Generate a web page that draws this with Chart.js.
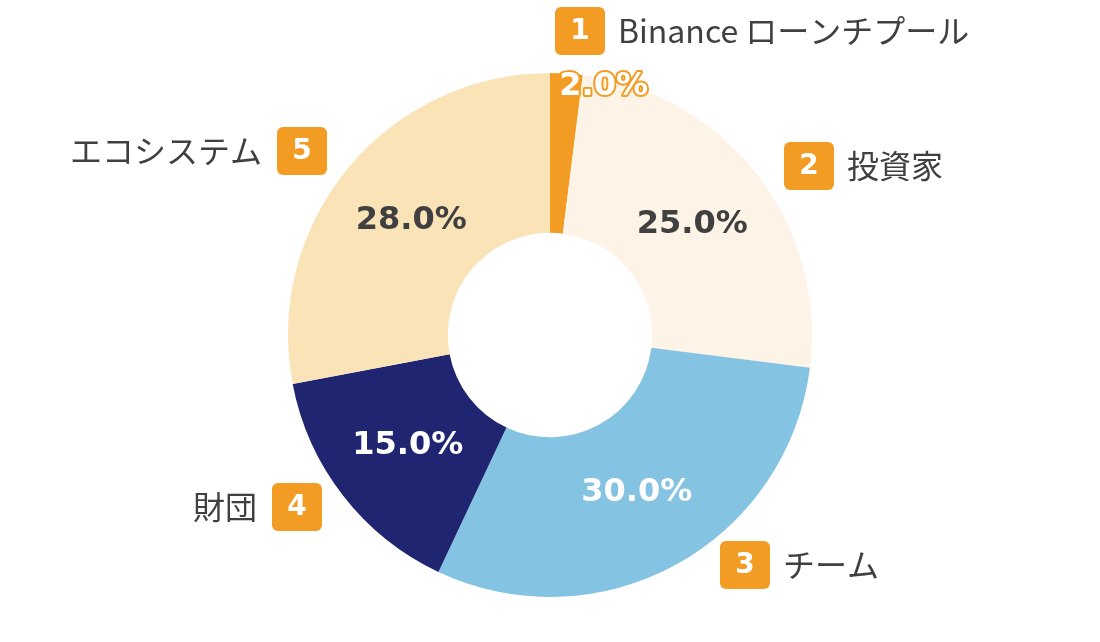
<!DOCTYPE html>
<html>
<head>
<meta charset="utf-8">
<script src="https://cdn.jsdelivr.net/npm/chart.js@4/dist/chart.umd.min.js"></script>
<style>
  html, body { margin: 0; padding: 0; background: #fff; }
  #wrap { width: 1100px; height: 642px; }
</style>
</head>
<body>
<div id="wrap"><canvas id="chart"></canvas></div>
<script>
// ===== data =====
const labels = ['Binance ローンチプール', '投資家', 'チーム', '財団', 'エコシステム'];
const shares = [2, 25, 30, 15, 28];
const colors = ['#F39C23', '#FDF3E6', '#85C3E2', '#1F2570', '#FBE3B8'];
const pctColors = ['#fff', '#404040', '#fff', '#fff', '#404040'];

// label placement relative to donut centre (style only)
const tagPos = [
    { dx: 30, dy: -304, side: 'right' },
    { dx: 259, dy: -169, side: 'right' },
    { dx: 195, dy: 230, side: 'right' },
    { dx: -253, dy: 172, side: 'left' },
    { dx: -248, dy: -184, side: 'left' }
];

function roundRect(ctx, x, y, w, h, r) {
    ctx.beginPath();
    ctx.moveTo(x + r, y);
    ctx.arcTo(x + w, y, x + w, y + h, r);
    ctx.arcTo(x + w, y + h, x, y + h, r);
    ctx.arcTo(x, y + h, x, y, r);
    ctx.arcTo(x, y, x + w, y, r);
    ctx.closePath();
}

// ===== plugin =====
const donutLabels = {
    id: 'donutLabels',
    afterDatasetsDraw(chart) {
        const ctx = chart.ctx;
        const arcs = chart.getDatasetMeta(0).data;
        ctx.save();
        arcs.forEach((arc, i) => {
            const mid = (arc.startAngle + arc.endAngle) / 2;
            const r = i === 0 ? 249 : 180;
            let x = arc.x + Math.cos(mid) * r;
            let y = arc.y + Math.sin(mid) * r;
            if (i === 0) x += 38;
            const txt = shares[i].toFixed(1) + '%';
            ctx.font = 'bold 32px "DejaVu Sans", Verdana, sans-serif';
            ctx.textAlign = 'center';
            ctx.textBaseline = 'middle';
            if (i === 0) {
                ctx.lineWidth = 4;
                ctx.strokeStyle = colors[0];
                ctx.lineJoin = 'round';
                ctx.strokeText(txt, x, y);
            }
            ctx.fillStyle = pctColors[i];
            ctx.fillText(txt, x, y);

            // numbered tag + name
            const p = tagPos[i];
            const bx = arc.x + p.dx, by = arc.y + p.dy;
            ctx.fillStyle = '#F39C23';
            roundRect(ctx, bx - 25, by - 24, 50, 48, 6);
            ctx.fill();
            ctx.fillStyle = '#fff';
            ctx.font = 'bold 28px "DejaVu Sans", Verdana, sans-serif';
            ctx.fillText(String(i + 1), bx, by + 1);
            ctx.fillStyle = '#404040';
            ctx.font = '32px "Noto Sans CJK JP", sans-serif';
            if (p.side === 'right') {
                ctx.textAlign = 'left';
                ctx.fillText(labels[i], bx + 38, by);
            } else {
                ctx.textAlign = 'right';
                ctx.fillText(labels[i], bx - 40, by);
            }
        });
        ctx.restore();
    }
};

// ===== chart =====
new Chart(document.getElementById('chart'), {
    type: 'doughnut',
    data: {
        labels: labels,
        datasets: [{
            data: shares,
            backgroundColor: colors,
            borderWidth: 0
        }]
    },
    options: {
        responsive: true,
        maintainAspectRatio: false,
        animation: false,
        cutout: '39%',
        layout: { padding: { top: 73, bottom: 45, left: 0, right: 0 } },
        plugins: {
            legend: { display: false },
            tooltip: { enabled: false }
        }
    },
    plugins: [donutLabels]
});
</script>
</body>
</html>
